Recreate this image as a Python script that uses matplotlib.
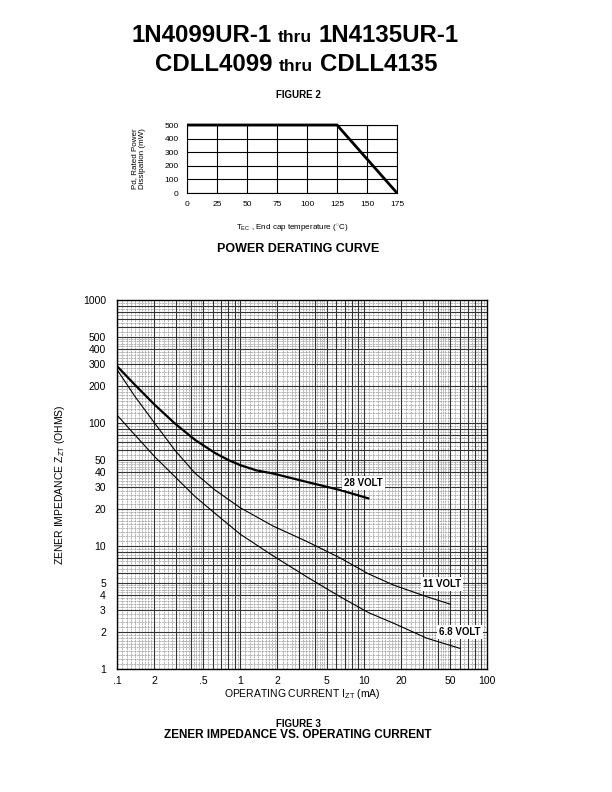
import numpy as np
import matplotlib
matplotlib.use("Agg")
import matplotlib.pyplot as plt
from matplotlib.ticker import FixedLocator, NullLocator, NullFormatter

plt.rcParams['font.family'] = ['Liberation Sans', 'DejaVu Sans']
plt.rcParams['mathtext.fontset'] = 'custom'
plt.rcParams['mathtext.rm'] = 'Liberation Sans'
plt.rcParams['mathtext.it'] = 'Liberation Sans'

# Figure 2 - power derating
derate_temp = [0, 125, 175]
derate_power = [500, 500, 0]
derate_xticks = [0, 25, 50, 75, 100, 125, 150, 175]
derate_yticks = [0, 100, 200, 300, 400, 500]

# Figure 3 - zener impedance vs current (mA, ohms)
i_28v = [0.1, 0.14, 0.203, 0.295, 0.43, 0.624, 0.8, 0.995, 1.35, 1.85, 3.45, 6.44, 10.9]
z_28v = [290, 204, 140, 99, 72.8, 57, 50, 45.5, 41.2, 38.8, 33.2, 28.5, 24.4]
i_11v = [0.1, 0.14, 0.203, 0.295, 0.43, 0.624, 0.995, 1.85, 3.45, 6.44, 10.9, 17.4, 32.5, 50.2]
z_11v = [272, 164, 99, 60, 39, 28.5, 20.5, 14.5, 10.9, 8.0, 5.95, 4.82, 3.87, 3.37]
i_68v = [0.1, 0.14, 0.203, 0.295, 0.43, 0.624, 0.995, 1.85, 3.45, 6.44, 10.9, 17.4, 32.5, 60.5]
z_68v = [116, 79.8, 53, 36.6, 25.2, 18.4, 12.5, 8.3, 5.62, 3.87, 2.88, 2.36, 1.78, 1.47]
curve_labels = ['28 VOLT', '11 VOLT', '6.8 VOLT']
x_ticks = [0.1, 0.2, 0.5, 1, 2, 5, 10, 20, 50, 100]
x_ticklabels = ['.1', '2', '.5', '1', '2', '5', '10', '20', '50', '100']
y_ticks = [1, 2, 3, 4, 5, 10, 20, 30, 40, 50, 100, 200, 300, 400, 500, 1000]

fig = plt.figure(figsize=(6.12, 7.92), dpi=100)


def centered_line(pieces, y, x_center=0.5):
    # pieces: list of (text, fontsize); laid out on one baseline, centred
    renderer = fig.canvas.get_renderer()
    texts = [fig.text(0, y, s, fontsize=fs, fontweight='bold', va='baseline')
             for s, fs in pieces]
    gap = 0.011
    widths = [t.get_window_extent(renderer).width / fig.bbox.width for t in texts]
    total = sum(widths) + gap * (len(texts) - 1)
    x = x_center - total / 2
    for t, w in zip(texts, widths):
        t.set_x(x)
        x += w + gap


centered_line([('1N4099UR-1', 17.3), ('thru', 12.5), ('1N4135UR-1', 17.3)], 1 - 42 / 792, 0.482)
centered_line([('CDLL4099', 17.3), ('thru', 12.5), ('CDLL4135', 17.3)], 1 - 71 / 792, 0.484)
fig.text(298 / 612, 1 - 95 / 792, 'FIGURE 2', fontsize=7, fontweight='bold', ha='center', va='center')

# ---- Figure 2 ----
ax1 = fig.add_axes([187 / 612, 1 - 193 / 792, 210 / 612, 68 / 792])
ax1.plot(derate_temp, derate_power, color='black', lw=2.0, solid_capstyle='butt',
         clip_on=False, zorder=5)
ax1.set_xlim(0, 175)
ax1.set_ylim(0, 500)
ax1.set_xticks(derate_xticks)
ax1.set_yticks(derate_yticks)
ax1.grid(True, color='black', lw=0.8)
ax1.tick_params(length=0, labelsize=6, pad=6)
for s in ax1.spines.values():
    s.set_linewidth(0.8)
ax1.set_ylabel('Pd, Rated Power\nDissipation (mW)', fontsize=5.8, labelpad=13)
ax1.set_xlabel(r'T$_{\rm EC}$ , End cap temperature ($^{\circ}$C)', fontsize=5.8, labelpad=10)
fig.text(298 / 612, 1 - 249 / 792, 'POWER DERATING CURVE', fontsize=9, fontweight='bold',
         ha='center', va='center')

# ---- Figure 3 ----
ax2 = fig.add_axes([117 / 612, 1 - 669 / 792, 370 / 612, 369 / 792])
ax2.set_xscale('log')
ax2.set_yscale('log')
ax2.set_xlim(0.1, 100)
ax2.set_ylim(1, 1000)

# log paper grid
def paper_lines(lo_dec, hi_dec):
    major, minor = [], []
    for d in range(lo_dec, hi_dec):
        base = 10.0 ** d
        for m in range(1, 10):
            major.append(m * base)
        for m in np.arange(1.1, 2.0, 0.1):
            minor.append(m * base)
        for m in np.arange(2.2, 5.0, 0.2):
            minor.append(m * base)
        for m in np.arange(5.5, 10.0, 0.5):
            minor.append(m * base)
    return major, minor

xmaj, xmin_ = paper_lines(-1, 2)
ymaj, ymin_ = paper_lines(0, 3)
for v in xmaj:
    ax2.axvline(v, color='#333333', lw=0.8, zorder=1)
for v in xmin_:
    ax2.axvline(v, color='#9a9a9a', lw=0.5, ls=(0, (3, 1)), zorder=0)
for v in ymaj:
    ax2.axhline(v, color='#333333', lw=0.8, zorder=1)
for v in ymin_:
    ax2.axhline(v, color='#9a9a9a', lw=0.5, ls=(0, (3, 1)), zorder=0)

ax2.plot(i_28v, z_28v, color='black', lw=1.6, zorder=3)
ax2.plot(i_11v, z_11v, color='black', lw=0.8, zorder=3)
ax2.plot(i_68v, z_68v, color='black', lw=0.8, zorder=3)

box = dict(facecolor='white', edgecolor='none', pad=1.5)
ax2.text(9.9, 32.5, curve_labels[0], fontsize=7, fontweight='bold', ha='center', va='center', bbox=box, zorder=4)
ax2.text(43.0, 4.95, curve_labels[1], fontsize=7, fontweight='bold', ha='center', va='center', bbox=box, zorder=4)
ax2.text(60.5, 2.01, curve_labels[2], fontsize=7, fontweight='bold', ha='center', va='center', bbox=box, zorder=4)

ax2.xaxis.set_major_locator(FixedLocator(x_ticks))
ax2.set_xticklabels(x_ticklabels)
ax2.xaxis.set_minor_locator(NullLocator())
ax2.yaxis.set_major_locator(FixedLocator(y_ticks))
ax2.set_yticklabels([str(v) for v in y_ticks])
ax2.yaxis.set_minor_locator(NullLocator())
ax2.yaxis.set_minor_formatter(NullFormatter())
ax2.tick_params(axis='x', length=0, labelsize=7.5, pad=5)
ax2.tick_params(axis='y', length=0, labelsize=7.5, pad=8)
for s in ax2.spines.values():
    s.set_linewidth(1.0)
ax2.set_ylabel(r'ZENER IMPEDANCE Z$_{\rm ZT}$ (OHMS)', fontsize=7.5, labelpad=11)
ax2.set_xlabel(r'OPERATING CURRENT I$_{\rm ZT}$ (mA)', fontsize=7.5, labelpad=1)

fig.text(298 / 612, 1 - 724 / 792, 'FIGURE 3', fontsize=7, fontweight='bold', ha='center', va='center')
fig.text(298 / 612, 1 - 735 / 792, 'ZENER IMPEDANCE VS. OPERATING CURRENT', fontsize=8.5,
         fontweight='bold', ha='center', va='center')

fig.savefig('out.png', dpi=100)
